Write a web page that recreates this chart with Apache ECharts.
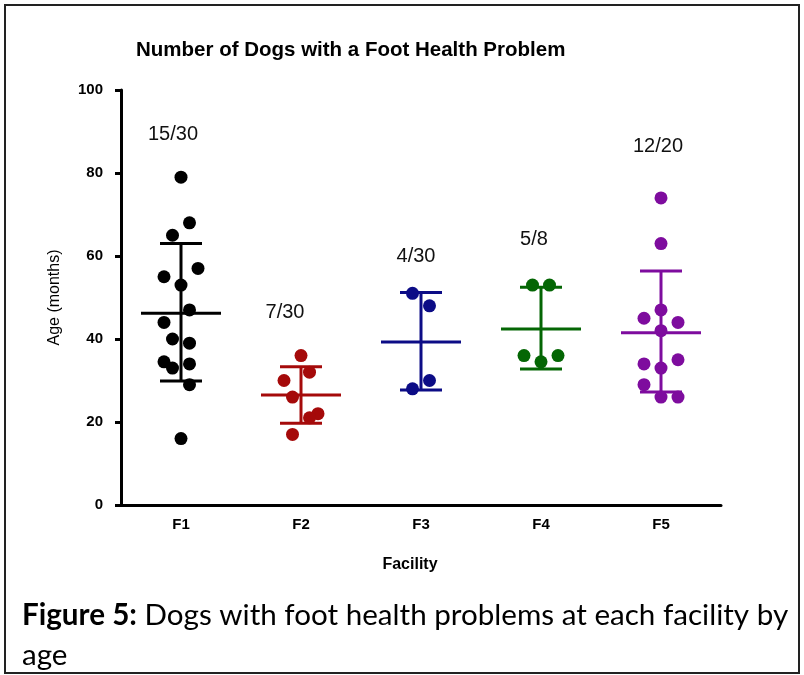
<!DOCTYPE html>
<html>
<head>
<meta charset="utf-8">
<script src="https://cdn.jsdelivr.net/npm/echarts@6/dist/echarts.min.js"></script>
<style>
  html, body { margin: 0; padding: 0; background: #fff; }
  #chart { width: 804px; height: 675px; }
</style>
</head>
<body>
<div id="chart"></div>
<script>
// facilities and ages (months)
var facilities = ['F1', 'F2', 'F3', 'F4', 'F5'];
var agesF1 = [79, 68, 65, 57, 55, 53, 47, 44, 40, 39, 34.5, 33, 34, 29, 16];
var agesF2 = [36, 32, 30, 26, 22, 21, 17];
var agesF3 = [51, 48, 30, 28];
var agesF4 = [53, 53, 36, 36, 34.5];
var agesF5 = [74, 63, 47, 45, 44, 42, 34, 35, 33, 29, 26, 26];
// mean and +/- SD bars
var means = [46.2, 26.5, 39.3, 42.4, 41.5];
var sdLow = [29.9, 19.7, 27.7, 32.8, 27.2];
var sdHigh = [63.0, 33.3, 51.2, 52.5, 56.4];
// counts printed above each group
var counts = ['15/30', '7/30', '4/30', '5/8', '12/20'];
var countY = [89.2, 46.3, 59.8, 63.9, 86.5];

// horizontal jitter slot of every dot (-2..2), same order as ages
var slotF1 = [0, 1, -1, 2, -2, 0, 1, -2, -1, 1, -2, -1, 1, 1, 0];
var slotF2 = [0, 1, -2, -1, 2, 1, -1];
var slotF3 = [-1, 1, 1, -1];
var slotF4 = [-1, 1, -2, 2, 0];
var slotF5 = [0, 0, 0, -2, 2, 0, -2, 2, 0, -2, 0, 2];

var colors = ['#000000', '#a50a0a', '#0c0c86', '#046604', '#7e0c9e'];
var noteShift = [-8, -16, -5, -7, -3];

var allAges = [agesF1, agesF2, agesF3, agesF4, agesF5];
var allSlots = [slotF1, slotF2, slotF3, slotF4, slotF5];
var chartFont = '"Liberation Sans", Arial, sans-serif';

var myChart = echarts.init(document.getElementById('chart'));

var series = [];

// error bars: mean line + sd whisker with caps
series.push({
  type: 'custom',
  z: 1,
  data: facilities.map(function (f, i) { return [i, means[i], sdLow[i], sdHigh[i]]; }),
  renderItem: function (params, api) {
    var c = api.coord([api.value(0), api.value(1)]);
    var lo = api.coord([api.value(0), api.value(2)]);
    var hi = api.coord([api.value(0), api.value(3)]);
    var st = { stroke: colors[params.dataIndex], lineWidth: 3 };
    return {
      type: 'group',
      children: [
        { type: 'line', shape: { x1: c[0] - 40, y1: c[1], x2: c[0] + 40, y2: c[1] }, style: st },
        { type: 'line', shape: { x1: c[0], y1: lo[1], x2: c[0], y2: hi[1] }, style: st },
        { type: 'line', shape: { x1: c[0] - 21, y1: lo[1], x2: c[0] + 21, y2: lo[1] }, style: st },
        { type: 'line', shape: { x1: c[0] - 21, y1: hi[1], x2: c[0] + 21, y2: hi[1] }, style: st }
      ]
    };
  }
});

// dots
allAges.forEach(function (ages, i) {
  series.push({
    type: 'scatter',
    name: facilities[i],
    z: 3,
    symbolSize: 13,
    itemStyle: { color: colors[i], opacity: 1 },
    data: ages.map(function (v, k) {
      return { value: [i, v], symbolOffset: [allSlots[i][k] * 8.5, 0] };
    })
  });
});

// count labels
series.push({
  type: 'custom',
  z: 4,
  data: facilities.map(function (f, i) { return [i, countY[i]]; }),
  renderItem: function (params, api) {
    var p = api.coord([api.value(0), api.value(1)]);
    return {
      type: 'text',
      x: p[0] + noteShift[params.dataIndex],
      y: p[1],
      style: {
        text: counts[params.dataIndex],
        font: '20px ' + chartFont,
        fill: '#111',
        align: 'center',
        verticalAlign: 'middle'
      }
    };
  }
});

var option = {
  backgroundColor: '#ffffff',
  animation: false,
  title: {
    text: 'Number of Dogs with a Foot Health Problem',
    left: 131,
    top: 35,
    textStyle: { fontFamily: chartFont, fontSize: 20.5, fontWeight: 'bold', color: '#000' }
  },
  grid: { left: 121, right: 83, top: 90, bottom: 170 },
  xAxis: {
    type: 'category',
    data: facilities,
    name: 'Facility',
    nameLocation: 'middle',
    nameGap: 52,
    nameTextStyle: { fontFamily: chartFont, fontSize: 16, fontWeight: 'bold', color: '#000', padding: [0, 22, 0, 0] },
    axisLine: { lineStyle: { color: '#000', width: 3 } },
    axisTick: { alignWithLabel: true, length: 6, lineStyle: { color: '#000', width: 3 } },
    axisLabel: { fontFamily: chartFont, fontSize: 15, fontWeight: 'bold', color: '#000', margin: 12 },
    splitLine: { show: false }
  },
  yAxis: {
    type: 'value',
    min: 0,
    max: 100,
    interval: 20,
    name: 'Age (months)',
    nameLocation: 'middle',
    nameGap: 58,
    nameTextStyle: { fontFamily: chartFont, fontSize: 16, color: '#000' },
    axisLine: { show: true, lineStyle: { color: '#000', width: 3 } },
    axisTick: { show: true, length: 6, lineStyle: { color: '#000', width: 3 } },
    axisLabel: { fontFamily: chartFont, fontSize: 15, fontWeight: 'bold', color: '#000', margin: 18 },
    splitLine: { show: false }
  },
  graphic: [
    {
      type: 'rect',
      shape: { x: 5, y: 5, width: 794, height: 668 },
      style: { fill: 'none', stroke: '#222', lineWidth: 2 },
      silent: true
    },
    {
      type: 'text',
      left: 22,
      top: 595,
      style: {
        text: '{b|Figure 5:} Dogs with foot health problems at each facility by\nage',
        font: '29.6px Lato, sans-serif',
        lineHeight: 40,
        fill: '#000',
        rich: {
          b: { fontWeight: 'bold', fontSize: 29.6, fontFamily: 'Lato, sans-serif', fill: '#000' }
        }
      }
    }
  ],
  series: series
};

myChart.setOption(option);
</script>
</body>
</html>
